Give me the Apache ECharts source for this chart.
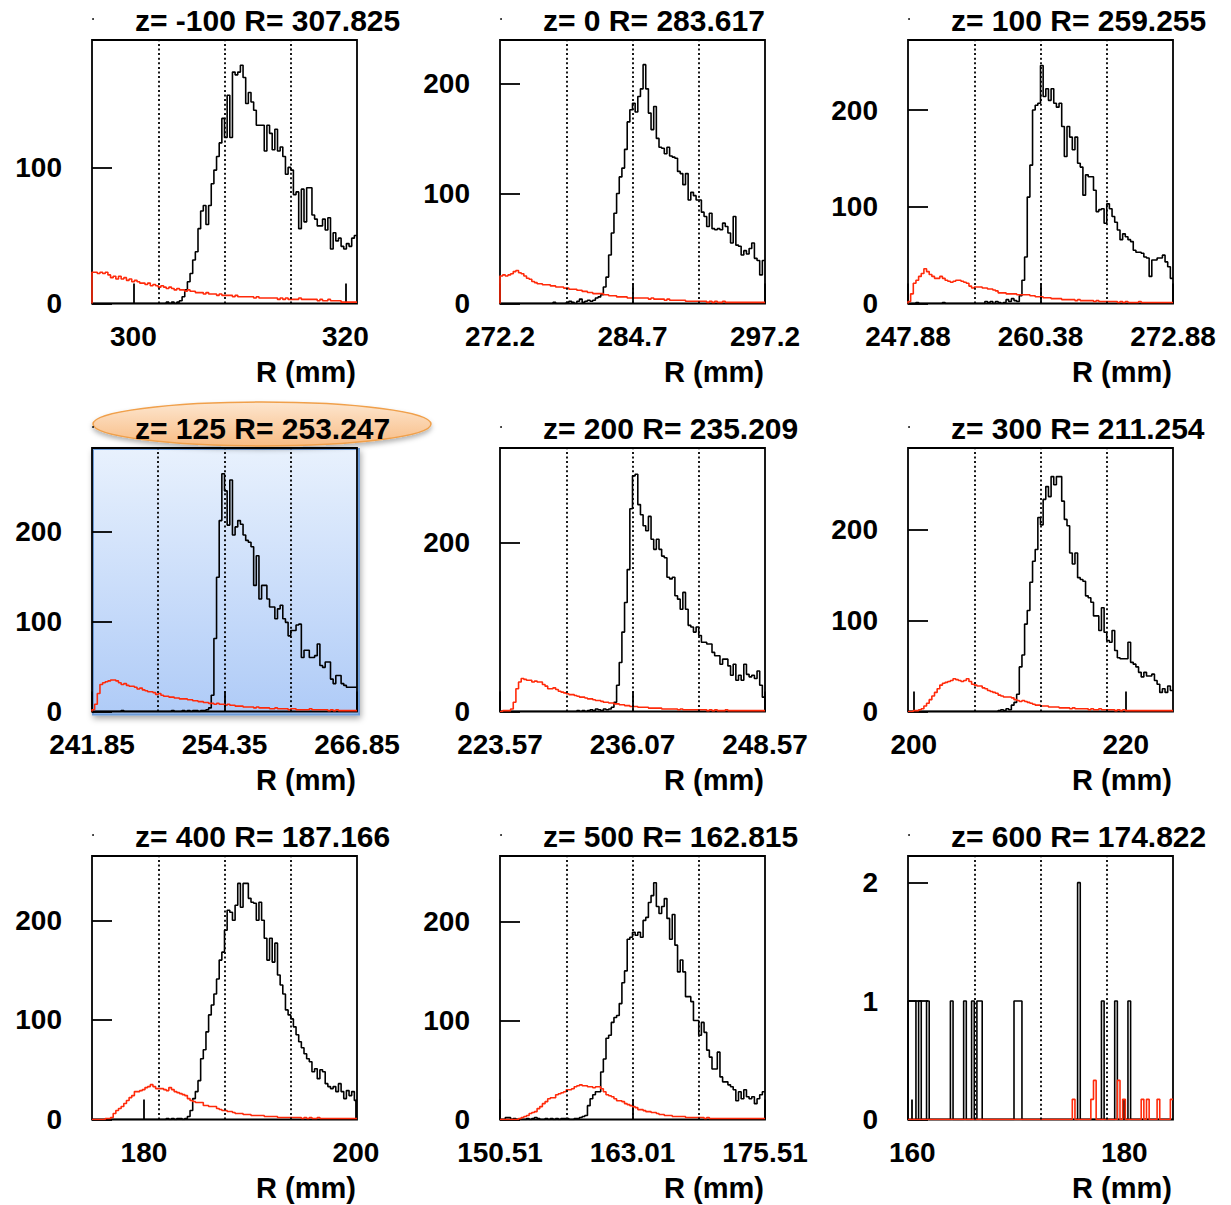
<!DOCTYPE html>
<html><head><meta charset="utf-8">
<script src="https://cdn.jsdelivr.net/npm/echarts@6/dist/echarts.min.js"></script>
<style>html,body{margin:0;padding:0;background:#fff}#c{width:1231px;height:1205px}</style>
</head><body><div id="c"></div>
<script>
// ---------------- DATA ----------------
const titles = ['z= -100 R= 307.825','z= 0 R= 283.617','z= 100 R= 259.255',
                'z= 125 R= 253.247','z= 200 R= 235.209','z= 300 R= 211.254',
                'z= 400 R= 187.166','z= 500 R= 162.815','z= 600 R= 174.822'];
const xMins = [296.1, 272.2, 247.88, 241.85, 223.57, 199.45, 175.1, 150.51, 159.6];
const xSpan = 25;
const xTickValues = [[300,320],[272.2,284.7,297.2],[247.88,260.38,272.88],
                     [241.85,254.35,266.85],[223.57,236.07,248.57],[200,220],
                     [180,200],[150.51,163.01,175.51],[160,180]];
const yMaxes = [193.6, 239.4, 272.4, 292.6, 312, 289.4, 264.5, 266, 2.225];
const yTickValues = [[0,100],[0,100,200],[0,100,200],[0,100,200],[0,200],
                     [0,100,200],[0,100,200],[0,100,200],[0,1,2]];

const black_zm100 = [0,0,0,0,0,0,0,0,0,0, 0,0,0,0,0,0,0,0,0,0, 0,0,0,0,0,0,0,0,1,0,
  1,0,1,2,5,10,16,22,32,38, 55,68,72,58,72,88,98,108,118,136, 122,153,122,170,168,170,175,166,147,155,
  148,142,131,131,131,112,131,125,113,128, 112,115,108,95,100,98,80,82,55,84,
  60,85,85,65,62,57,57,62,54,63, 40,52,46,48,42,40,44,42,48,50];
const red_zm100 = [23,23,22,23,22,23,21,19,20,18, 20,18,19,17,18,16,17,16,15,15,
  14,15,13,14,13,12,13,12,11,12, 11,10,11,10,10,9,10,9,9,8, 8,8,7,8,7,7,7,6,7,6,
  6,6,6,5,6,5,5,5,5,5, 5,4,5,4,4,4,4,4,4,4, 3,4,3,4,3,3,3,3,4,3,
  3,3,3,3,3,2,3,2,2,3, 2,2,2,2,1,1,1,1,1,1];

const black_z0 = [0,0,0,0,0,0,0,0,0,0, 0,0,0,0,0,0,0,0,0,0, 1,0,0,0,0,1,2,1,0,2,
  4,1,2,3,2,3,5,6,8,15, 24,44,64,82,100,115,123,140,165,176, 182,174,188,195,217,195,173,158,179,150,
  142,141,136,142,134,133,132,120,118,108, 118,94,101,98,94,94,83,79,70,82,
  68,67,68,67,73,70,64,55,79,53, 52,44,48,45,50,55,41,39,26,39];
const red_z0 = [25,26,25,26,27,29,30,28,27,25, 23,22,20,19,18,18,17,17,17,16,
  16,15,15,15,14,14,13,13,13,12, 12,11,11,10,10,9,9,9,9,8, 8,7,7,7,6,6,6,6,5,5,
  5,5,5,5,5,5,4,5,4,4, 4,4,3,4,3,3,3,3,3,3, 2,2,2,2,2,2,2,2,1,2,
  1,2,1,1,2,1,1,1,1,1, 1,1,1,1,1,1,1,1,1,1];

const black_z100 = [0,0,0,1,0,0,0,0,0,0, 0,0,0,1,0,0,0,0,0,0, 0,0,0,0,0,0,0,0,0,2,
  1,2,0,2,1,0,1,4,2,5, 3,2,8,24,48,110,143,200,205,207, 246,214,222,210,222,207,203,207,183,152,
  183,172,159,172,145,141,112,133,131,131, 117,95,97,98,83,103,98,90,84,76,
  66,72,69,66,64,55,53,53,52,48, 47,28,45,45,47,47,50,43,38,26];
const red_z100 = [2,10,21,24,28,31,36,33,30,28, 26,26,28,26,24,23,22,23,24,24,
  23,22,21,18,16,17,17,17,16,16, 15,15,14,13,11,11,11,10,10,10, 10,9,9,9,9,9,8,8,7,7,
  7,6,6,6,5,5,5,5,4,4, 4,4,4,3,4,3,3,3,3,3, 2,3,2,2,2,2,2,2,2,1,
  2,1,2,1,1,1,1,2,1,1, 1,1,1,1,1,1,1,1,1,1];

const black_z125 = [0,0,0,0,0,0,0,0,0,0, 0,1,0,0,0,0,0,0,0,0, 0,0,0,0,0,0,0,0,0,0,
  1,0,0,0,1,0,1,0,1,1, 0,1,1,2,4,18,81,149,212,264, 245,207,257,196,205,212,208,196,190,188,
  183,140,173,125,140,140,125,116,116,103, 114,118,103,99,84,90,90,96,97,60,
  68,68,60,60,62,75,51,49,55,55, 36,31,40,40,31,29,27,27,27,27];
const red_z125 = [2,8,20,30,32,33,34,35,35,34, 32,30,31,29,28,28,27,25,26,24,
  23,22,22,21,19,20,18,17,17,16, 16,15,15,14,14,14,13,13,12,12, 11,11,10,10,9,9,8,9,8,8,
  7,8,7,7,6,6,6,5,5,5, 5,4,5,4,4,4,4,3,3,4, 3,3,3,3,2,3,3,2,2,2,
  2,2,3,2,2,2,2,2,2,1, 2,1,2,1,1,1,1,1,1,1];

const black_z200 = [0,0,0,0,0,0,0,0,0,0, 0,0,0,0,0,0,0,0,0,0, 0,0,0,0,0,0,0,0,0,1,
  0,1,0,1,2,1,3,2,1,3, 2,3,5,11,31,58,94,129,168,240, 279,281,245,233,220,214,231,204,192,204,
  192,184,182,159,157,159,137,133,121,141, 121,102,100,94,100,90,82,82,80,80,
  70,66,66,56,62,62,54,43,56,37, 43,37,56,44,41,43,39,48,31,17];
const red_z200 = [0,1,1,1,3,11,27,35,39,38, 37,37,35,36,35,35,32,30,27,27,
  28,26,24,23,22,21,20,20,19,18, 17,17,16,15,15,14,13,13,12,11, 11,10,10,9,9,8,8,7,7,6,
  6,6,5,5,5,5,4,4,4,4, 4,3,3,3,3,3,3,2,3,2, 2,2,2,2,2,2,2,2,1,2,
  1,2,1,1,1,2,1,1,1,1, 1,1,1,1,1,1,1,1,1,1];

const black_z300 = [0,0,0,0,0,0,0,0,0,0, 0,0,0,0,0,0,0,0,0,0, 0,0,0,0,0,0,0,0,0,0,
  0,0,0,0,1,2,1,3,2,7, 10,19,49,62,96,111,142,165,178,213, 205,233,247,236,258,249,258,258,231,211,
  204,174,162,174,147,145,143,127,125,120, 105,105,89,114,87,78,76,89,67,59,
  58,58,58,76,54,52,49,43,38,43, 39,39,41,34,30,21,25,21,28,23];
const red_z300 = [0,0,1,1,2,3,6,9,13,17, 21,25,29,31,32,33,34,36,35,34,
  33,34,36,33,30,29,28,28,26,25, 23,22,21,20,18,17,16,16,16,15, 13,12,11,12,11,10,9,8,7,7,
  6,6,6,5,5,5,5,4,4,4, 4,3,4,3,3,3,3,3,2,3, 2,2,3,2,2,2,2,2,1,2,
  1,2,1,1,1,1,1,1,1,1, 1,1,1,1,1,1,1,1,1,1];

const black_z400 = [0,0,0,0,0,0,0,0,0,0, 0,0,0,0,0,0,0,0,0,0, 0,0,0,0,0,0,0,0,1,0,
  1,0,1,1,0,1,3,9,21,28, 39,61,70,88,105,115,126,141,160,168, 190,210,208,200,215,237,213,237,237,222,
  218,217,200,218,200,182,160,182,158,177, 145,135,126,110,105,101,93,85,78,72,
  66,61,58,48,51,41,50,48,36,33, 31,33,28,36,28,21,29,24,28,19];
const red_z400 = [0,0,0,0,0,1,1,2,6,9, 11,13,16,19,22,24,28,28,29,30,
  32,33,35,33,31,31,31,30,29,32, 30,28,27,26,25,24,21,19,18,17, 17,17,14,14,13,13,13,11,10,9,
  9,8,8,7,6,6,6,5,5,5, 4,4,4,4,4,3,3,3,3,3, 2,2,2,2,2,2,2,2,2,1,
  2,1,2,1,1,2,1,1,1,1, 1,1,1,1,1,1,1,1,1,1];

const black_z500 = [0,0,2,2,0,1,0,0,0,0, 1,0,1,2,1,0,0,1,0,1, 0,1,0,1,1,1,0,0,1,1,
  2,3,4,14,21,25,28,28,48,61, 82,85,98,103,105,117,138,150,182,184, 189,186,189,184,201,204,219,226,239,215,
  208,215,223,203,182,207,176,149,161,149, 124,124,119,100,100,85,98,88,70,63,
  51,51,68,43,38,38,35,33,30,19, 28,21,30,23,21,23,16,21,25,28];
const red_z500 = [0,0,0,0,0,0,0,1,2,3, 4,6,7,8,11,13,16,18,21,22,
  22,25,26,27,28,30,30,31,33,34, 35,34,34,33,33,32,33,33,31,28, 25,24,23,21,19,19,18,16,15,14,
  13,12,10,10,9,8,8,7,7,6, 5,5,4,4,4,3,3,3,3,3, 2,2,2,2,2,2,2,1,2,1,
  1,1,1,1,1,1,1,1,1,1, 1,1,1,1,1,1,1,1,1,1];

const black_z600 = [1,1,1,0,1,0,0,1,0,0, 0,0,0,0,0,0,1,0,0,0, 0,1,0,0,1,0,1,1,0,0,
  0,0,0,0,0,0,0,0,0,0, 1,1,1,0,0,0,0,0,0,0, 0,0,0,0,0,0,0,0,0,0,
  0,0,0,0,2,0,0,0,0,0, 0,0,0,1,0,0,0,0,1,0, 0,0,0,1,0,0,0,0,0,0, 0,0,0,0,0,0,0,0,0,0];
const red_z600 = [0,0,0,0,0,0,0,0,0,0, 0,0,0,0,0,0,0,0,0,0, 0,0,0,0,0,0,0,0,0,0,
  0,0,0,0,0,0,0,0,0,0, 0,0,0,0,0,0,0,0,0,0, 0,0,0,0,0,0,0,0,0,0,
  0,0,0.17,0,0,0,0,0,0,0.17, 0.33,0,0,0,0,0,0,0,0,0.33, 0,0.17,0,0,0,0,0,0,0.17,0,
  0.17,0,0,0,0.17,0,0,0,0,0.17];

const blackSeries = [black_zm100, black_z0, black_z100, black_z125, black_z200, black_z300, black_z400, black_z500, black_z600];
const redSeries = [red_zm100, red_z0, red_z100, red_z125, red_z200, red_z300, red_z400, red_z500, red_z600];

// ---------------- LAYOUT ----------------
const FONT = '"Liberation Sans", Arial, Helvetica, sans-serif';
const colLeft = [92, 500, 908], rowTop = [40, 448, 856];
const W = 265, H = 263.5;
const BLACK = '#000', RED = '#ff2a0a';

function histPoints(vals, xmin, span) {
  const n = vals.length, bw = span / n;
  const pts = [[xmin, 0]];
  for (let i = 0; i < n; i++) pts.push([xmin + i * bw, vals[i]]);
  pts.push([xmin + span, vals[n - 1]]);
  return pts;
}

const grids = [], xAxes = [], yAxes = [], series = [], graphics = [];
for (let p = 0; p < 9; p++) {
  const col = p % 3, row = Math.floor(p / 3);
  const L = colLeft[col], T = rowTop[row];
  const xmin = xMins[p], xmax = xMins[p] + xSpan;
  grids.push({left: L, top: T, width: W, height: H, show: true,
    borderColor: BLACK, borderWidth: 1.8, backgroundColor: 'transparent'});
  xAxes.push({type: 'value', gridIndex: p, min: xmin, max: xmax,
    axisLine: {show: false}, splitLine: {show: false},
    axisTick: {show: true, inside: true, length: 20, customValues: xTickValues[p],
      lineStyle: {color: BLACK, width: 1.8}},
    axisLabel: {show: true, customValues: xTickValues[p], margin: 19,
      formatter: v => String(+(+v).toFixed(2)),
      color: BLACK, fontSize: 28, fontWeight: 'bold', fontFamily: FONT}});
  yAxes.push({type: 'value', gridIndex: p, min: 0, max: yMaxes[p],
    axisLine: {show: false}, splitLine: {show: false},
    axisTick: {show: true, inside: true, length: 20, customValues: yTickValues[p],
      lineStyle: {color: BLACK, width: 1.8}},
    axisLabel: {show: true, customValues: yTickValues[p], margin: 30,
      formatter: v => String(Math.round(v)),
      color: BLACK, fontSize: 28, fontWeight: 'bold', fontFamily: FONT}});
  const q = xSpan / 4;
  series.push({type: 'line', xAxisIndex: p, yAxisIndex: p, step: 'end',
    data: histPoints(blackSeries[p], xmin, xSpan), showSymbol: false, symbol: 'none',
    lineStyle: {color: BLACK, width: 1.6}, silent: true, animation: false, z: 3,
    markLine: {silent: true, symbol: ['none', 'none'], animation: false,
      label: {show: false},
      lineStyle: {color: BLACK, type: [2, 2.6], width: 1.8},
      data: [{xAxis: xmin + q}, {xAxis: xmin + 2 * q}, {xAxis: xmin + 3 * q}]}});
  series.push({type: 'line', xAxisIndex: p, yAxisIndex: p, step: 'end',
    data: histPoints(redSeries[p], xmin, xSpan), showSymbol: false, symbol: 'none',
    lineStyle: {color: RED, width: 1.6}, silent: true, animation: false, z: 4});

  // panel title, axis name and the small corner dot
  graphics.push({type: 'text', x: L + 43, y: T - 20, z: 20,
    style: {text: titles[p], fill: BLACK, fontSize: 30, fontWeight: 'bold',
      fontFamily: FONT, align: 'left', verticalAlign: 'middle'}});
  graphics.push({type: 'text', x: L + W - 1, y: T + H + 68, z: 20,
    style: {text: 'R (mm)', fill: BLACK, fontSize: 29, fontWeight: 'bold',
      fontFamily: FONT, align: 'right', verticalAlign: 'middle'}});
  graphics.push({type: 'circle', shape: {cx: L + 1, cy: T - 21, r: 0.9}, z: 20,
    style: {fill: BLACK}});
}

// highlighted panel (z=125): blue box + orange ellipse behind title
graphics.push({type: 'rect', z: -5,
  shape: {x: colLeft[0] + 1, y: rowTop[1] + 1, width: W + 1, height: H + 2},
  style: {fill: new echarts.graphic.LinearGradient(0, 0, 0, 1,
      [{offset: 0, color: '#e8f1fd'}, {offset: 1, color: '#afcbf7'}]),
    stroke: '#6d9cd8', lineWidth: 2,
    shadowBlur: 6, shadowOffsetX: 1, shadowOffsetY: 3, shadowColor: 'rgba(0,0,0,0.35)'}});
graphics.push({type: 'ellipse', z: 5,
  shape: {cx: 262, cy: 424, rx: 169, ry: 22},
  style: {fill: new echarts.graphic.LinearGradient(0, 0, 0, 1,
      [{offset: 0, color: '#fde6cf'}, {offset: 1, color: '#f8bc84'}]),
    stroke: '#f0a04b', lineWidth: 1.5,
    shadowBlur: 5, shadowOffsetY: 3, shadowColor: 'rgba(0,0,0,0.3)'}});

const chart = echarts.init(document.getElementById('c'), null, {renderer: 'svg'});
chart.setOption({
  animation: false,
  backgroundColor: '#fff',
  grid: grids, xAxis: xAxes, yAxis: yAxes, series: series,
  graphic: {elements: graphics}
});
</script></body></html>
